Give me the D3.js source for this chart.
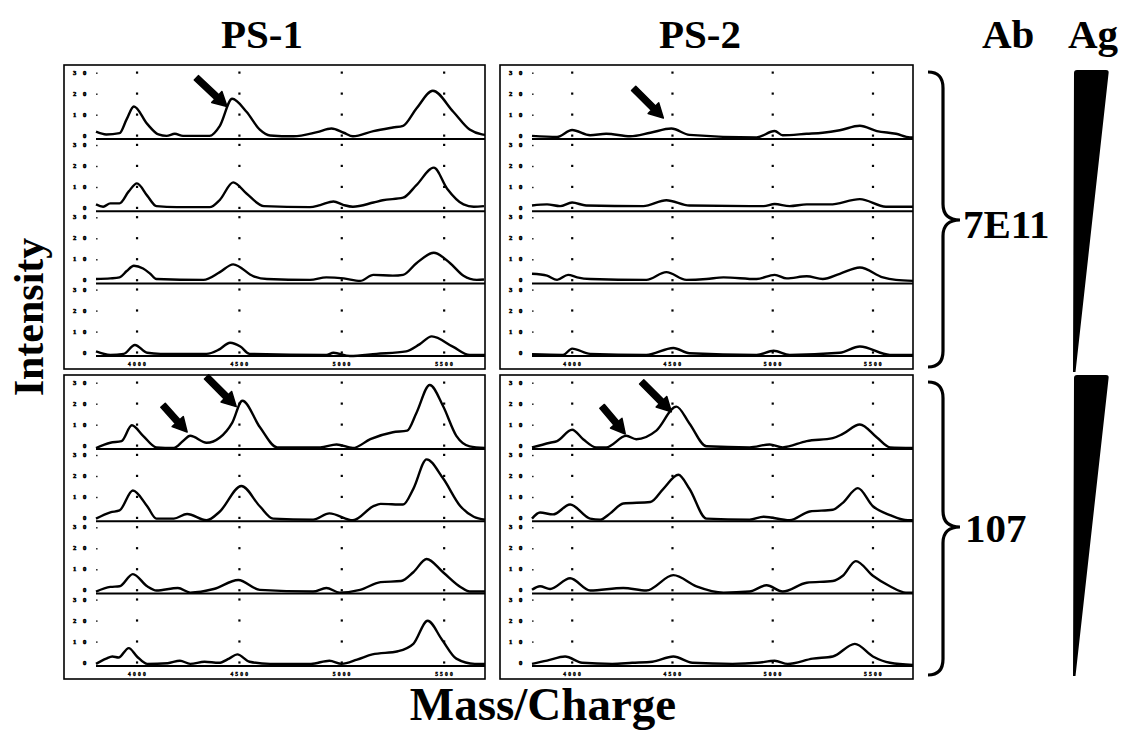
<!DOCTYPE html>
<html><head><meta charset="utf-8">
<script src="https://cdn.jsdelivr.net/npm/d3@7"></script>
<style>body{margin:0;background:#fff} svg{display:block}</style>
</head><body>
<svg id="c" width="1125" height="733"></svg>
<script>
// ---------- data ----------
const columns = ["PS-1", "PS-2"];
const antibodies = ["7E11", "107"];
const xTicks = [1, 2, 3, 4];
const xTickLabels = ["4000", "4500", "5000", "5500"];
const yTicks = [0, 10, 20, 30];
const yTickLabels = ["0", "10", "20", "30"];

// each trace: [mass position (tick units), intensity]
const PS1_7E11 = [
  [[0.6,3],[0.7,1.7],[0.83,2.3],[0.9,9],[0.97,15],[1.1,6.7],[1.21,1.7],[1.29,1],[1.37,2],[1.45,1],[1.71,1],[1.81,5.8],[1.93,18.7],[2.07,12.5],[2.2,4],[2.3,1.2],[2.53,0.8],[2.76,2.8],[2.9,4.5],[3.02,2.5],[3.11,0.8],[3.31,3.3],[3.5,5],[3.6,5.8],[3.73,14],[3.89,22.5],[4.09,12.5],[4.25,4],[4.37,1.7],[4.4,1.5]],
  [[0.6,2.8],[0.67,1.7],[0.74,3.3],[0.83,3.3],[0.92,9],[1.0,12.8],[1.1,7],[1.19,2],[1.39,1.5],[1.71,1.5],[1.81,5],[1.94,13.3],[2.07,8],[2.24,2],[2.69,1.5],[2.79,2.5],[2.92,4.2],[3.02,2.5],[3.11,1.7],[3.31,3.7],[3.4,4.8],[3.6,6],[3.73,12],[3.9,20.3],[4.03,10.3],[4.19,2.8],[4.29,1.7],[4.39,2]],
  [[0.6,1.7],[0.74,2],[0.83,2.5],[0.9,5.5],[0.97,8],[1.06,6.7],[1.13,4.2],[1.19,1.7],[1.65,1.3],[1.81,5],[1.94,8.7],[2.14,3],[2.27,1.7],[2.69,1.3],[2.85,2.5],[3.02,2],[3.18,0.8],[3.31,3.7],[3.5,3.3],[3.6,3.7],[3.73,9.2],[3.9,14.2],[4.06,9.2],[4.19,3.3],[4.32,1.3],[4.39,1.5]],
  [[0.6,1.7],[0.74,0],[0.87,0.5],[0.98,4.7],[1.1,1],[1.23,0.5],[1.68,0.5],[1.8,2.5],[1.91,5.8],[2.01,4],[2.1,0.5],[2.85,0],[2.92,1],[3.08,-0.5],[3.34,0.5],[3.63,1.7],[3.76,5],[3.88,8.8],[4.09,3.8],[4.25,0],[4.4,0]]
];
const PS2_7E11 = [
  [[0.6,1],[0.85,0.5],[1.0,3.8],[1.18,1.3],[1.34,2],[1.58,0.8],[1.78,2.5],[1.99,4.5],[2.17,1.5],[2.84,0.3],[3.02,3.3],[3.1,1.3],[3.34,2],[3.5,2.5],[3.67,3.7],[3.87,5.8],[4.04,3.3],[4.23,2],[4.37,0.3],[4.4,0.3]],
  [[0.6,2.3],[0.75,2.8],[0.88,2],[1.0,3.7],[1.14,2.3],[1.71,2],[1.94,4.8],[2.17,2.3],[2.91,2],[3.02,3],[3.17,2],[3.34,2.8],[3.57,2.8],[3.87,5.3],[4.13,1.7],[4.4,1.7]],
  [[0.6,4.2],[0.75,3.3],[0.85,1.3],[0.96,3.7],[1.05,2.5],[1.18,1.7],[1.74,1.3],[1.94,5],[2.14,1.3],[2.34,1.7],[2.51,2.5],[2.84,1.7],[3.02,3.7],[3.14,2],[3.34,3],[3.5,1.7],[3.67,4.2],[3.87,7.2],[4.1,2.5],[4.23,1.3],[4.4,0.8]],
  [[0.6,0.3],[0.91,0],[1.0,3],[1.18,0.5],[1.74,0],[2.01,3.3],[2.17,0.8],[2.84,0],[3.01,2],[3.17,0],[3.67,1],[3.87,4],[4.17,0],[4.4,0]]
];
const PS1_107 = [
  [[0.6,0],[0.74,2.5],[0.85,3.3],[0.95,10.8],[1.06,5.8],[1.19,0.3],[1.36,0],[1.45,3.3],[1.52,5.8],[1.68,2.5],[1.81,5],[1.93,12],[2.03,22.5],[2.2,10],[2.37,0.3],[2.79,0.3],[2.95,1.7],[3.11,0],[3.28,4.2],[3.5,7.5],[3.64,8.3],[3.73,16.7],[3.86,30],[3.99,20],[4.12,5.8],[4.25,0.8],[4.4,0]],
  [[0.6,0.8],[0.74,3.8],[0.83,4.7],[0.96,14.2],[1.1,6.7],[1.19,0.8],[1.36,0.8],[1.49,3],[1.68,0],[1.81,4.2],[2.02,16.3],[2.2,6.7],[2.33,0.8],[2.72,0.3],[2.88,3.3],[3.11,0],[3.31,6.7],[3.38,7.8],[3.6,7.5],[3.7,15],[3.83,29],[3.99,20],[4.16,6.7],[4.29,1.7],[4.4,0.3]],
  [[0.6,0.5],[0.74,2.7],[0.83,3],[0.96,8.8],[1.1,3],[1.19,1],[1.4,2.2],[1.52,0],[1.75,1.7],[1.99,6],[2.2,1.3],[2.72,0.5],[2.85,2.2],[2.98,0],[3.18,1.3],[3.38,5],[3.58,5.5],[3.7,9.7],[3.83,16],[3.99,9.7],[4.16,2.7],[4.25,0.5],[4.4,0.5]],
  [[0.6,0.5],[0.7,3],[0.76,4],[0.82,3.5],[0.92,8],[1.0,4],[1.1,0.5],[1.3,0.8],[1.42,2],[1.52,0.5],[1.66,1.5],[1.8,1],[1.9,3],[1.98,5],[2.1,1.5],[2.3,0.5],[2.7,0.5],[2.88,2],[3.0,0.5],[3.15,2.5],[3.3,5],[3.55,6.5],[3.7,10],[3.84,21],[3.98,12],[4.12,3],[4.3,0.5],[4.4,0.5]]
];
const PS2_107 = [
  [[0.6,0.3],[0.78,2.5],[0.85,3.3],[1.0,8.7],[1.11,4.2],[1.24,0.3],[1.34,0.3],[1.54,5.8],[1.64,4.2],[1.84,8.3],[2.04,19.7],[2.17,11.7],[2.34,0.8],[2.77,0.3],[2.97,1.7],[3.1,0.3],[3.34,3.3],[3.6,4.7],[3.7,6.7],[3.87,11.2],[4.04,5],[4.17,0.3],[4.4,0]],
  [[0.6,0.8],[0.68,3.7],[0.81,2.8],[0.98,7.5],[1.18,0.8],[1.28,0.3],[1.38,3.3],[1.51,8],[1.78,8.7],[1.91,15],[2.06,21.7],[2.17,15],[2.34,0.8],[2.77,0.3],[2.91,1.7],[3.17,0],[3.37,4.2],[3.6,5],[3.7,8.3],[3.85,15.3],[4.0,6.7],[4.17,2.5],[4.35,0],[4.4,0]],
  [[0.6,1.3],[0.68,3],[0.78,1.7],[0.98,6.8],[1.18,1],[1.51,2.2],[1.74,1],[2.01,8.3],[2.24,3],[2.51,0],[2.77,0.5],[2.94,3.5],[3.1,0.5],[3.34,4.7],[3.6,5.5],[3.7,8],[3.83,15],[4.0,8],[4.17,3],[4.33,0],[4.4,0]],
  [[0.6,0.5],[0.75,2],[0.93,4],[1.1,1],[1.4,0.5],[1.6,1],[1.8,1.5],[2.01,4],[2.2,1],[2.6,0.5],[2.85,1],[3.02,2],[3.15,0.5],[3.4,3],[3.6,4],[3.82,10],[4.0,4],[4.17,1],[4.4,0]]
];

// arrow annotations: panel index, trace index, target position
const arrowMarks = [
  {panel:0, trace:0, x:1.88, v:15,   len:42, angle:43},
  {panel:1, trace:0, x:1.91, v:9.5,  len:42, angle:45},
  {panel:2, trace:0, x:1.97, v:19.7, len:42, angle:45},
  {panel:2, trace:0, x:1.49, v:7.6,  len:36, angle:48},
  {panel:3, trace:0, x:1.99, v:17.3, len:42, angle:45},
  {panel:3, trace:0, x:1.53, v:6.7,  len:36, angle:50}
];

// ---------- drawing ----------
const svg = d3.select("#c");
const serif = "'Liberation Serif','Times New Roman',serif";
const colX = [64, 500], colR = [485, 913], rowY = [65, 375], boxH = 304;
const firstBase = 73, pitch = 72.3;

const panels = [
  {c:0, r:0, traces:PS1_7E11}, {c:1, r:0, traces:PS2_7E11},
  {c:0, r:1, traces:PS1_107},  {c:1, r:1, traces:PS2_107}
];
const scales = [];

panels.forEach((p, pi) => {
  const x0 = colX[p.c], x1 = colR[p.c], y0 = rowY[p.r];
  const x = d3.scaleLinear().domain([0.6, 4.4]).range([x0 + 32, x1]);
  const g = svg.append("g");
  const ys = [];
  p.traces.forEach((tr, i) => {
    const base = y0 + firstBase + i * pitch;
    const y = d3.scaleLinear().domain([0, 30]).range([base, base - 63]);
    ys.push(y);
    // grid dots
    yTicks.forEach(v => xTicks.forEach(t => {
      g.append("rect").attr("x", x(t) - 1).attr("y", y(v) - 3.5)
        .attr("width", 2.2).attr("height", 2.2).attr("fill", "#000");
    }));
    // small y ticks at trace start
    yTicks.slice(1).forEach(v => {
      g.append("rect").attr("x", x(0.6)).attr("y", y(v) - 2.5)
        .attr("width", 1.6).attr("height", 1.4).attr("fill", "#222");
    });
    // tiny y tick labels
    yTicks.forEach((v, k) => {
      const lab = yTickLabels[k];
      g.append("text").attr("x", x0 + 9 + (2 - lab.length) * 10).attr("y", y(v) - 0.3)
        .attr("font-family", serif).attr("font-weight", "bold").attr("font-size", 6.5)
        .attr("letter-spacing", 6.7).attr("fill", "#000").attr("stroke", "#000")
        .attr("stroke-width", 0.6).text(lab);
    });
    // axis line
    g.append("line").attr("x1", x(0.6)).attr("x2", x1).attr("y1", base + 1).attr("y2", base + 1)
      .attr("stroke", "#000").attr("stroke-width", 2);
    // trace
    const line = d3.line().x(d => x(d[0])).y(d => y(d[1])).curve(d3.curveMonotoneX);
    g.append("path").attr("d", line(tr)).attr("fill", "none")
      .attr("stroke", "#000").attr("stroke-width", 2.4).attr("stroke-linejoin", "round");
    // x tick labels under last trace
    if (i === p.traces.length - 1) {
      xTicks.forEach((t, k) => {
        g.append("text").attr("x", x(t) + 1).attr("y", base + 11)
          .attr("text-anchor", "middle").attr("font-family", serif).attr("font-weight", "bold")
          .attr("font-size", 5.5).attr("letter-spacing", 2.2).attr("fill", "#000")
          .attr("stroke", "#000").attr("stroke-width", 0.4)
          .text(xTickLabels[k]);
      });
    }
  });
  g.append("rect").attr("x", x0).attr("y", y0).attr("width", x1 - x0).attr("height", boxH)
    .attr("fill", "none").attr("stroke", "#000").attr("stroke-width", 1.6);
  scales.push({x, ys});
});

// arrows
arrowMarks.forEach(a => {
  const s = scales[a.panel];
  const tx = s.x(a.x), ty = s.ys[a.trace](a.v);
  const ang = a.angle * Math.PI / 180;
  const ux = Math.cos(ang), uy = Math.sin(ang);
  const nx = -uy, ny = ux;
  const sw = 6, hw = 15, hl = 14;
  const sx = tx - ux * a.len, sy = ty - uy * a.len;
  const bx = tx - ux * hl, by = ty - uy * hl;
  const pts = [
    [sx + nx * sw / 2, sy + ny * sw / 2], [bx + nx * sw / 2, by + ny * sw / 2],
    [bx + nx * hw / 2, by + ny * hw / 2], [tx, ty],
    [bx - nx * hw / 2, by - ny * hw / 2], [bx - nx * sw / 2, by - ny * sw / 2],
    [sx - nx * sw / 2, sy - ny * sw / 2]
  ];
  svg.append("path").attr("d", "M" + pts.map(p => p.join(",")).join("L") + "Z")
    .attr("fill", "#000").attr("stroke", "#000").attr("stroke-width", 1.5).attr("stroke-linejoin", "round");
});

// titles
const txt = (x, y, s, size, anchor) => svg.append("text").attr("x", x).attr("y", y)
  .attr("font-family", serif).attr("font-weight", "bold").attr("font-size", size)
  .attr("text-anchor", anchor || "start").attr("fill", "#000").text(s);
txt(262, 48, columns[0], 41, "middle");
txt(700, 48, columns[1], 41, "middle");
txt(982, 48, "Ab", 41);
txt(1068, 48, "Ag", 41);
txt(963, 238, antibodies[0], 41);
txt(965, 542, antibodies[1], 41);
txt(543, 720, "Mass/Charge", 47, "middle");
svg.append("text").attr("transform", "translate(43,317) rotate(-90)")
  .attr("font-family", serif).attr("font-weight", "bold").attr("font-size", 42)
  .attr("text-anchor", "middle").attr("fill", "#000").text("Intensity");

// braces
const brace = (top, mid, bot) => `M928,${top} Q943,${top} 943,${top + 16} L943,${mid - 16} Q943,${mid} 960,${mid} Q943,${mid} 943,${mid + 16} L943,${bot - 16} Q943,${bot} 928,${bot}`;
svg.append("path").attr("d", brace(72, 220, 367)).attr("fill", "none").attr("stroke", "#000").attr("stroke-width", 3.2);
svg.append("path").attr("d", brace(382, 527, 675)).attr("fill", "none").attr("stroke", "#000").attr("stroke-width", 3.2);

// wedges (Ag gradient)
const wedge = (top, bot) => `M1074,${top + 3} Q1074,${top} 1077,${top} L1106,${top} Q1109,${top} 1108.6,${top + 3} L1075.5,${bot} L1073,${bot} Z`;
svg.append("path").attr("d", wedge(70, 372)).attr("fill", "#000");
svg.append("path").attr("d", wedge(375, 676)).attr("fill", "#000");
</script>
</body></html>
